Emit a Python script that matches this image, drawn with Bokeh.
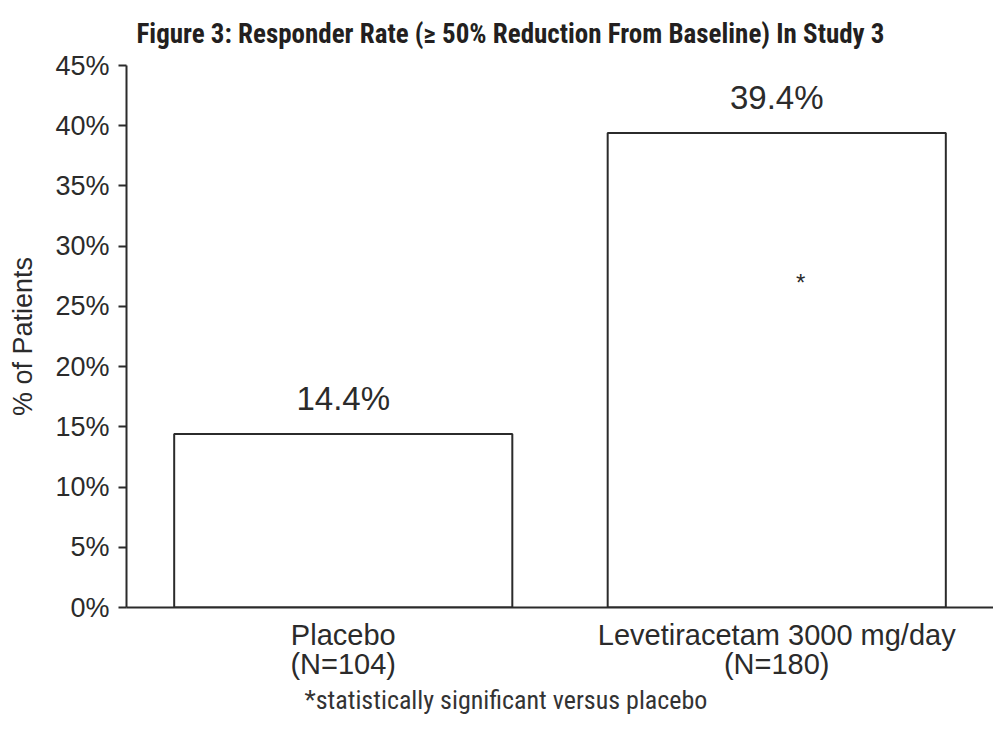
from bokeh.plotting import figure
from bokeh.models import FactorRange, Range1d, FixedTicker, PrintfTickFormatter, Title
from bokeh.core.properties import value
from bokeh.embed import file_html
from bokeh.resources import INLINE

# ---- data ----
categories = ["Placebo\n(N=104)", "Levetiracetam 3000 mg/day\n(N=180)"]
responder_pct = [14.4, 39.4]
value_labels = ["14.4%", "39.4%"]
y_ticks = [0, 5, 10, 15, 20, 25, 30, 35, 40, 45]
sig_category = ["Levetiracetam 3000 mg/day\n(N=180)"]
sig_marker_y = [27.3]
sig_marker = ["*"]
title_text = "Figure 3: Responder Rate (\u2265 50% Reduction From Baseline) In Study 3"
footnote_text = "*statistically significant versus placebo"

SANS = "Liberation Sans, Arial, Helvetica, sans-serif"
NARROW = "Liberation Sans Narrow, Arial Narrow, Roboto Condensed, sans-serif"
DARK = "#2b2b2b"

p = figure(
    x_range=FactorRange(factors=categories, range_padding=0),
    y_range=Range1d(0, 45),
    frame_width=867, frame_height=542,
    output_backend="svg", toolbar_location=None,
    min_border_left=126, min_border_right=0, min_border_top=65, min_border_bottom=0,
)
p.outline_line_color = None
p.xgrid.grid_line_color = None
p.ygrid.grid_line_color = None
p.background_fill_color = "white"
p.border_fill_color = "white"

p.vbar(x=categories, top=responder_pct, width=0.78, fill_color="white",
       line_color=DARK, line_width=2)

p.text(x=categories, y=responder_pct, text=value_labels, text_align="center",
       text_baseline="bottom", y_offset=-17, text_font=value(SANS),
       text_font_size="33px", text_color=DARK)

p.text(x=sig_category, y=sig_marker_y, text=sig_marker, text_align="center",
       text_baseline="middle", x_offset=24, y_offset=4, text_font=value(SANS),
       text_font_size="24px", text_color=DARK)

# y axis
yax = p.yaxis[0]
yax.ticker = FixedTicker(ticks=y_ticks)
yax.formatter = PrintfTickFormatter(format="%d%%")
yax.minor_tick_line_color = None
yax.major_tick_out = 8
yax.major_tick_in = 0
yax.major_tick_line_width = 2
yax.major_tick_line_color = DARK
yax.axis_line_width = 2
yax.axis_line_color = DARK
yax.major_label_text_font = SANS
yax.major_label_text_font_size = "27px"
yax.major_label_text_color = DARK
yax.major_label_standoff = 9
yax.axis_label = "% of Patients"
yax.axis_label_text_font = SANS
yax.axis_label_text_font_size = "27px"
yax.axis_label_text_font_style = "normal"
yax.axis_label_text_color = DARK
yax.axis_label_standoff = 14

# x axis
xax = p.xaxis[0]
xax.axis_line_width = 2
xax.axis_line_color = DARK
xax.major_tick_line_color = None
xax.minor_tick_line_color = None
xax.major_label_text_font = SANS
xax.major_label_text_font_size = "29px"
xax.major_label_text_color = DARK
xax.major_label_text_line_height = 0.92
xax.major_label_standoff = 5
xax.major_label_orientation = "horizontal"

# title and footnote
t = Title(text=title_text, align="left", offset=10, text_font=NARROW,
          text_font_size="27px", text_font_style="bold", text_color="#231f20",
          standoff=31)
p.add_layout(t, "above")
fn = Title(text=footnote_text, align="left", offset=178, text_font=NARROW,
           text_font_size="26px", text_font_style="normal", text_color="#333333",
           standoff=0)
p.add_layout(fn, "below")

open("out.html", "w").write(file_html(p, INLINE))
